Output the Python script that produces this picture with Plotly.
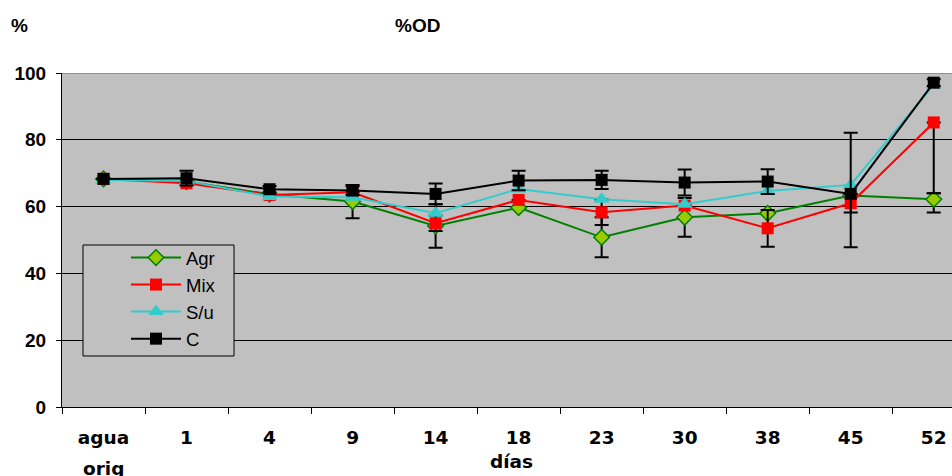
import plotly.graph_objects as go

categories = ["agua", "1", "4", "9", "14", "18", "23", "30", "38", "45", "52"]

agr = [68.3, 67.5, 63.7, 61.5, 54.2, 59.7, 50.8, 56.8, 58.0, 63.3, 62.2]
mix = [68.3, 67.0, 63.5, 64.3, 55.0, 62.0, 58.3, 60.3, 53.5, 61.0, 85.2]
su = [68.0, 67.7, 63.0, 62.8, 58.0, 65.3, 62.2, 60.7, 64.7, 66.5, 96.5]
c = [68.3, 68.5, 65.2, 64.8, 63.8, 67.8, 68.0, 67.2, 67.5, 63.8, 97.1]

agr_err_plus = [None, None, None, 5.0, 6.5, None, 6.0, 5.8, None, None, 1.8]
agr_err_minus = [None, None, None, 5.0, 6.5, None, 6.0, 5.8, None, None, 4.0]
mix_err_plus = [None, None, None, None, 2.3, None, 3.8, None, 5.5, 2.8, 0.0]
mix_err_minus = [None, None, None, None, 2.3, None, 3.8, None, 5.5, 2.8, 21.2]
c_err_plus = [None, 2.2, 1.0, 1.3, 3.1, 2.9, 2.7, 3.9, 3.7, 18.3, 1.0]
c_err_minus = [None, 2.2, 1.0, 1.3, 3.1, 2.9, 2.7, 3.9, 3.7, 16.0, 1.0]

ERR = dict(type="data", symmetric=False, color="black", thickness=2, width=7)
XFONT = dict(size=18.5, family="DejaVu Sans, Liberation Sans", weight="bold", color="black")
HFONT = dict(size=19, family="Liberation Sans, Arial", weight="bold", color="black")

fig = go.Figure()
fig.add_trace(go.Scatter(
    x=categories, y=agr, name="Agr", mode="lines+markers",
    line=dict(color="#008000", width=2),
    marker=dict(symbol="diamond", size=12, color="#99CC00", line=dict(color="#008000", width=1.5)),
    error_y=dict(array=agr_err_plus, arrayminus=agr_err_minus, **ERR),
))
fig.add_trace(go.Scatter(
    x=categories, y=mix, name="Mix", mode="lines+markers",
    line=dict(color="#FF0000", width=2),
    marker=dict(symbol="square", size=12, color="#FF0000"),
    error_y=dict(array=mix_err_plus, arrayminus=mix_err_minus, **ERR),
))
fig.add_trace(go.Scatter(
    x=categories, y=su, name="S/u", mode="lines+markers",
    line=dict(color="#33CCCC", width=2),
    marker=dict(symbol="triangle-up", size=14, color="#33CCCC"),
))
fig.add_trace(go.Scatter(
    x=categories, y=c, name="C", mode="lines+markers",
    line=dict(color="black", width=2),
    marker=dict(symbol="square", size=12, color="black"),
    error_y=dict(array=c_err_plus, arrayminus=c_err_minus, **ERR),
))

fig.update_layout(
    width=952, height=476,
    margin=dict(l=62, r=0, t=73, b=69),
    paper_bgcolor="white", plot_bgcolor="#C0C0C0",
    font=dict(family="Liberation Sans, Arial, sans-serif", color="black"),
    legend=dict(
        x=0.0719, y=0.503, xanchor="left", yanchor="top",
        bgcolor="rgba(0,0,0,0)", borderwidth=0,
        font=dict(size=18.5, family="Liberation Sans, Arial, sans-serif"),
        itemwidth=50,
    ),
    xaxis=dict(
        type="category", range=[-0.5, 10.22],
        showline=True, linecolor="black", linewidth=1,
        ticks="outside", tickson="boundaries", ticklen=6, tickcolor="black",
        showgrid=False,
        tickfont=XFONT,
        ticklabelstandoff=14,
    ),
    yaxis=dict(
        range=[0, 100], tickvals=[0, 20, 40, 60, 80, 100],
        showline=True, linecolor="black", linewidth=1,
        ticks="outside", ticklen=5, tickcolor="black",
        showgrid=True, gridcolor="black", gridwidth=1, zeroline=False,
        tickfont=HFONT,
        ticklabelstandoff=6,
    ),
    showlegend=True,
)

fig.add_shape(type="line", xref="paper", yref="y", x0=0, x1=1, y0=100, y1=100,
              line=dict(color="#909090", width=2))
# legend frame
fig.add_shape(type="rect", xref="paper", yref="paper", x0=0.0236, x1=0.1933, y0=0.1527, y1=0.485,
              fillcolor="#C0C0C0", line=dict(color="black", width=1), layer="above")

fig.add_annotation(text="%", xref="paper", yref="paper", x=-0.0472, y=1.1437,
                   xanchor="center", yanchor="middle", showarrow=False, font=HFONT)
fig.add_annotation(text="%OD", xref="paper", yref="paper", x=0.3989, y=1.1437,
                   xanchor="center", yanchor="middle", showarrow=False, font=HFONT)
fig.add_annotation(text="días", xref="paper", yref="paper", x=0.5045, y=-0.1617,
                   xanchor="center", yanchor="middle", showarrow=False, font=XFONT)
fig.add_annotation(text="orig", xref="x", yref="paper", x=categories[0], y=-0.184,
                   xanchor="center", yanchor="middle", showarrow=False, font=XFONT)

fig.write_html(
    "out.html",
    config={"displayModeBar": False},
    post_script=(
        "document.documentElement.style.margin='0';document.body.style.margin='0';"
        "document.documentElement.style.overflow='hidden';document.body.style.overflow='hidden';"
    ),
)
